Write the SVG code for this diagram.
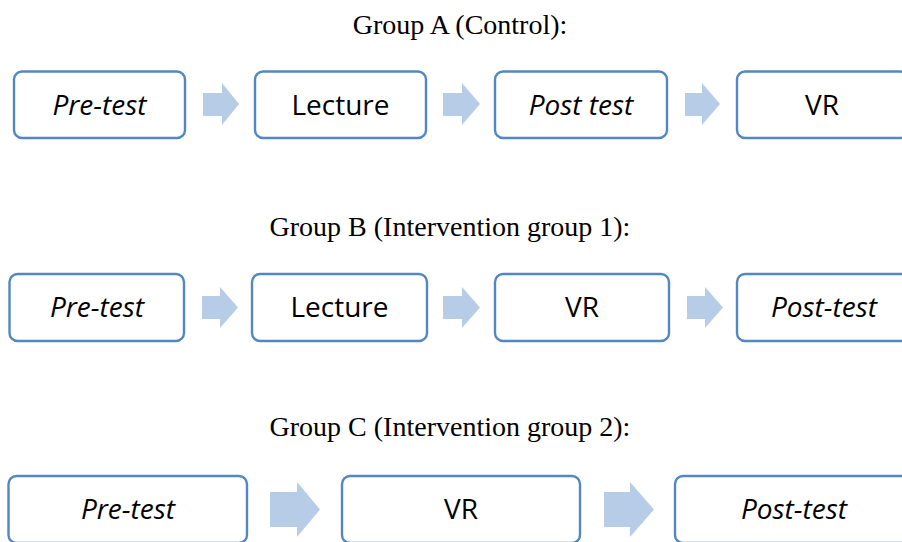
<svg xmlns="http://www.w3.org/2000/svg" width="902" height="542" viewBox="0 0 902 542">
<style>
.title{font-family:"Liberation Serif","Times New Roman",serif;font-size:28px;fill:#000;text-anchor:middle}
.box{fill:#fff;stroke:#5287C2;stroke-width:2.4}
.lbl{font-family:"Open Sans","Liberation Sans",sans-serif;font-size:28px;fill:#000;text-anchor:middle}
.it{font-style:italic}
.arr{fill:#B7CCE7}
</style>
<rect width="902" height="542" fill="#fff"/>
<text class="title" x="460" y="34">Group A (Control):</text>
<text class="title" x="450" y="236">Group B (Intervention group 1):</text>
<text class="title" x="450" y="436">Group C (Intervention group 2):</text>

<g id="connectors">
  <polygon class="arr" points="203,93 222,93 222,83 239,104 222,125 222,116 203,116"/>
  <polygon class="arr" points="443,93 462,93 462,83 480,104 462,125 462,116 443,116"/>
  <polygon class="arr" points="685,93 702,93 702,83 720,104 702,125 702,116 685,116"/>
  <polygon class="arr" points="202,296 220,296 220,287 238,307.5 220,328 220,319 202,319"/>
  <polygon class="arr" points="443,296 462,296 462,287 480,307.5 462,328 462,319 443,319"/>
  <polygon class="arr" points="687,296 705,296 705,287 723,307.5 705,328 705,319 687,319"/>
  <polygon class="arr" points="270,492 297,492 297,482 320,509.5 297,537 297,527 270,527"/>
  <polygon class="arr" points="604,492 630,492 630,482 654,509.5 630,537 630,527 604,527"/>
</g>

<g id="a-pretest"><rect class="box" x="14" y="71.5" width="171" height="66.5" rx="8"/><text class="lbl it" x="99.5" y="115">Pre-test</text></g>
<g id="a-lecture"><rect class="box" x="255" y="71.5" width="171" height="66.5" rx="8"/><text class="lbl" x="340.5" y="115">Lecture</text></g>
<g id="a-posttest"><rect class="box" x="495" y="71.5" width="172" height="66.5" rx="8"/><text class="lbl it" x="581" y="115">Post test</text></g>
<g id="a-vr"><rect class="box" x="737" y="71.5" width="171" height="66.5" rx="8"/><text class="lbl" x="822" y="115">VR</text></g>

<g id="b-pretest"><rect class="box" x="9.5" y="274" width="174.5" height="67" rx="8"/><text class="lbl it" x="97" y="317">Pre-test</text></g>
<g id="b-lecture"><rect class="box" x="252" y="274" width="175" height="67" rx="8"/><text class="lbl" x="339.5" y="317">Lecture</text></g>
<g id="b-vr"><rect class="box" x="495" y="274" width="174" height="67" rx="8"/><text class="lbl" x="582" y="317">VR</text></g>
<g id="b-posttest"><rect class="box" x="737" y="274" width="174" height="67" rx="8"/><text class="lbl it" x="824" y="317">Post-test</text></g>

<g id="c-pretest"><rect class="box" x="8.5" y="476" width="238.5" height="67" rx="8"/><text class="lbl it" x="128" y="519">Pre-test</text></g>
<g id="c-vr"><rect class="box" x="342" y="476" width="238" height="67" rx="8"/><text class="lbl" x="461" y="519">VR</text></g>
<g id="c-posttest"><rect class="box" x="675" y="476" width="238" height="67" rx="8"/><text class="lbl it" x="794" y="519">Post-test</text></g>
</svg>
